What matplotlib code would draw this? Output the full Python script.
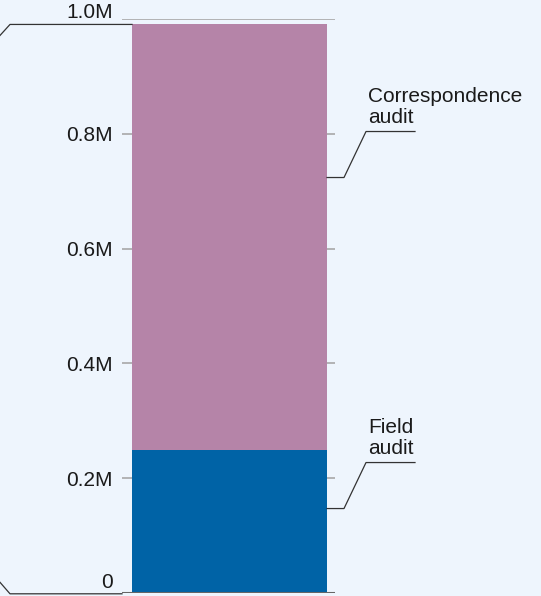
import matplotlib.pyplot as plt
from matplotlib.lines import Line2D
import numpy as np

plt.rcParams["font.family"] = ["Liberation Sans", "DejaVu Sans"]

BG = "#eef5fd"
COLORS = ["#0063a6", "#b584a8"]

categories = ["Field\naudit", "Correspondence\naudit"]
values = [250000, 740000]
tick_values = [0, 200000, 400000, 600000, 800000, 1000000]
tick_labels = ["0", "0.2M", "0.4M", "0.6M", "0.8M", "1.0M"]

# where along each segment the leader line starts (fraction of segment height)
LEADER_AT = [0.59, 0.64]

W, H = 541, 596
fig = plt.figure(figsize=(W / 100, H / 100), dpi=100)
fig.patch.set_facecolor(BG)

ax = fig.add_axes([122 / W, 2.7 / H, 213 / W, 574.6 / H])
ax.set_facecolor(BG)

bar_w = 0.9
px = 195 / bar_w  # pixels per x unit
ax.set_xlim(-bar_w / 2 - 10 / px, bar_w / 2 + 8 / px)
ax.set_ylim(0, 1000000)

for s in ax.spines.values():
    s.set_visible(False)
ax.set_xticks([])
ax.set_yticks([])

# gridlines sit behind the bar so only the stubs either side show
for t in tick_values[1:]:
    ax.axhline(t, color="#a8a8a8", lw=1.2, zorder=1)
ax.axhline(0, color="#666666", lw=2.2, zorder=3)

bottom = 0
bounds = []
for val, col in zip(values, COLORS):
    ax.bar(0, val, width=bar_w, bottom=bottom, color=col, zorder=2)
    bounds.append((bottom, val))
    bottom += val
total = bottom

# y tick labels, the end ones nudged inside the canvas
for t, lab in zip(tick_values, tick_labels):
    if t == tick_values[-1]:
        dy = 0.3
    elif t == 0:
        dy = 3.6
    else:
        dy = -5.4
    ax.annotate(lab, xy=(0, t), xycoords=("axes fraction", "data"),
                xytext=(-6.5, dy), textcoords="offset points",
                ha="right", va="baseline", fontsize=15, color="#1a1a1a")

fig.canvas.draw()
to_fig = fig.transFigure.inverted()


def draw_poly(points_px):
    pts = to_fig.transform(np.array(points_px))
    fig.add_artist(Line2D(pts[:, 0], pts[:, 1], color="#333333", lw=0.9,
                          transform=fig.transFigure))


# segment labels with elbow leaders on the right
for (b, v), lab, frac in zip(bounds, categories, LEADER_AT):
    x0, y0 = ax.transData.transform((bar_w / 2, b + v * frac))
    elbow_y = y0 + 46
    draw_poly([(x0, y0), (x0 + 17, y0), (x0 + 39, elbow_y), (x0 + 88, elbow_y)])
    tx, ty = to_fig.transform((x0 + 41, elbow_y + 9))
    fig.text(tx, ty, lab, ha="left", va="baseline", fontsize=15,
             color="#1a1a1a", linespacing=1.12)

# bracket lines running off the left edge at the total and the baseline
xl, yt = ax.transData.transform((-bar_w / 2, total))
draw_poly([(0, yt - 11), (10, yt), (xl, yt)])
xa, yb = ax.transData.transform((ax.get_xlim()[0], 0))
draw_poly([(0, yb + 11), (10, yb - 0.5), (xa, yb - 0.5)])

fig.savefig("out.png", dpi=100, facecolor=BG)
